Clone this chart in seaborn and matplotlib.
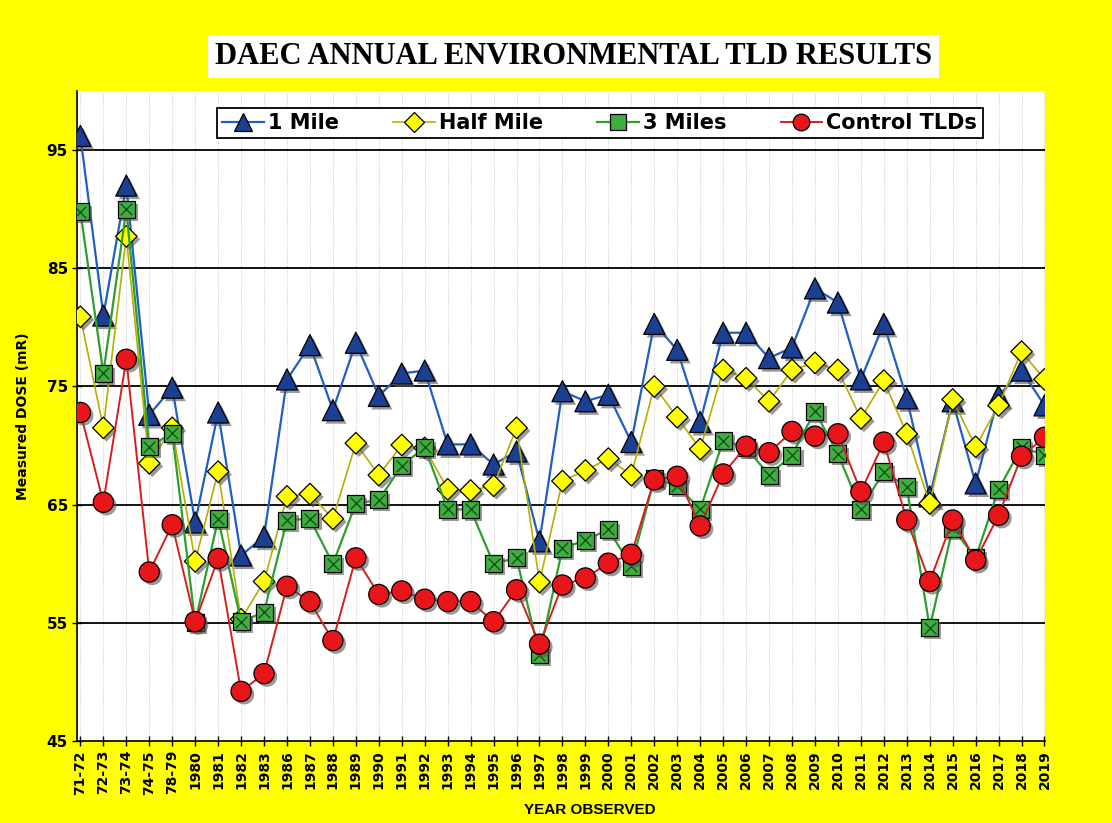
import numpy as np
import pandas as pd
import matplotlib
matplotlib.use("Agg")
import matplotlib.pyplot as plt
import matplotlib.patheffects as pe
from matplotlib.lines import Line2D
import seaborn as sns

categories = ["71-72", "72-73", "73-74", "74-75", "78-79", "1980", "1981", "1982", "1983",
              "1986", "1987", "1988", "1989", "1990", "1991", "1992", "1993", "1994", "1995",
              "1996", "1997", "1998", "1999", "2000", "2001", "2002", "2003", "2004", "2005",
              "2006", "2007", "2008", "2009", "2010", "2011", "2012", "2013", "2014", "2015",
              "2016", "2017", "2018", "2019"]

one_mile = [96.2, 81.0, 92.0, 72.6, 74.9, 63.5, 72.8, 60.7, 62.3, 75.6, 78.5, 73.0, 78.7,
            74.2, 76.1, 76.35, 70.1, 70.1, 68.4, 69.5, 61.9, 74.6, 73.75,
            74.3, 70.3, 80.3, 78.1, 72.0, 79.55, 79.55, 77.4, 78.3, 83.3,
            82.1, 75.6, 80.3, 74.0, 65.7, 73.75, 66.8, 74.2, 76.35, 73.4]
half_mile = [80.9, 71.5, 87.7, 68.5, 71.5, 60.2, 67.8, 55.3, 58.5, 65.7, 65.9, 63.8, 70.2,
             67.5, 70.05, 69.8, 66.3, 66.2, 66.6, 71.5, 58.45, 67.0, 67.9,
             68.9, 67.5, 75.0, 72.4, 69.7, 76.4, 75.7, 73.75, 76.4, 77.0,
             76.4, 72.3, 75.5, 71.0, 65.1, 73.9, 69.9, 73.4, 77.95, 75.6]
three_miles = [89.8, 76.1, 90.0, 69.9, 71.05, 55.0, 63.8, 55.1, 55.9, 63.7, 63.8, 60.0, 65.1,
               65.4, 68.3, 69.85, 64.6, 64.6, 60.0, 60.5, 52.3, 61.3, 62.0,
               62.9, 59.8, 67.2, 66.6, 64.6, 70.4, 69.85, 67.5, 69.2, 72.9,
               69.3, 64.6, 67.8, 66.5, 54.6, 63.0, 60.5, 66.3, 69.85, 69.2]
control = [72.8, 65.2, 77.3, 59.3, 63.3, 55.1, 60.45, 49.2, 50.7, 58.1, 56.8, 53.5, 60.5,
           57.4, 57.7, 57.0, 56.8, 56.8, 55.1, 57.8, 53.2, 58.2, 58.8,
           60.05, 60.8, 67.1, 67.4, 63.2, 67.6, 69.95, 69.4, 71.2, 70.8,
           71.0, 66.1, 70.3, 63.7, 58.5, 63.7, 60.3, 64.1, 69.1, 70.7]

series_names = ["1 Mile", "Half Mile", "3 Miles", "Control TLDs"]
y_ticks = [45, 55, 65, 75, 85, 95]

YELLOW = "#FFFF00"
fig = plt.figure(figsize=(11.12, 8.23), dpi=100, facecolor=YELLOW)
ax = fig.add_axes([0.0692, 0.0996, 0.8705, 0.7898])
ax.set_facecolor("white")

x = np.arange(len(categories))
df = pd.DataFrame({"x": np.tile(x, 4),
                   "value": one_mile + half_mile + three_miles + control,
                   "series": np.repeat(series_names, len(categories))})

styles = {
    "1 Mile": dict(line="#1f5fc4", face="#1b3f92", marker="^", s=230, lw=1.6),
    "Half Mile": dict(line="#b9ad00", face="#ffff00", marker="D", s=120, lw=1.2),
    "3 Miles": dict(line="#2e9e2e", face="#3fae3f", marker="s", s=150, lw=1.6),
    "Control TLDs": dict(line="#d41f1f", face="#e8161b", marker="o", s=210, lw=1.4),
}

shadow = [pe.SimplePatchShadow(offset=(2.2, -2.2), shadow_rgbFace="#555555", alpha=0.6), pe.Normal()]

z = 3
for name in series_names:
    st = styles[name]
    sub = df[df["series"] == name]
    sns.lineplot(data=sub, x="x", y="value", ax=ax, color=st["line"], lw=st["lw"],
                 legend=False, zorder=z)
    sns.scatterplot(data=sub, x="x", y="value", ax=ax, marker=st["marker"], s=st["s"],
                    color=st["face"], edgecolor="black", linewidth=0.9, legend=False,
                    zorder=z + 1, path_effects=shadow)
    if name == "3 Miles":
        sns.scatterplot(data=sub, x="x", y="value", ax=ax, marker="x", s=70,
                        color="#14501a", linewidth=1.0, legend=False, zorder=z + 1.5)
    z += 2

ax.set_xlim(-0.15, len(categories) - 1 + 0.02)
ax.set_ylim(45, 100)
ax.set_yticks(y_ticks)
ax.set_xticks(x)
ax.set_xticklabels(categories, rotation=90, fontsize=10, fontweight="bold")
for lab in ax.get_yticklabels():
    lab.set_fontweight("bold")
    lab.set_fontsize(11)

for yv in y_ticks[1:]:
    ax.axhline(yv, color="black", lw=1.3, zorder=1)
for xv in x:
    ax.axvline(xv, color="#b4b4b4", lw=0.6, ls=(0, (1, 2)), zorder=0.5)

for sp in ["top", "right"]:
    ax.spines[sp].set_visible(False)
ax.spines["left"].set_linewidth(1.2)
ax.spines["bottom"].set_linewidth(1.2)
ax.tick_params(axis="both", direction="inout", length=7, width=1, colors="black", pad=3)

ax.set_xlabel("")
ax.set_ylabel("Measured DOSE (mR)", fontsize=10, fontweight="bold", labelpad=12)
fig.text(0.53, 0.016, "YEAR OBSERVED", ha="center", va="center", fontsize=11,
         fontweight="bold", family=["Liberation Sans Narrow", "Liberation Sans", "DejaVu Sans"])

handles = []
for name in series_names:
    st = styles[name]
    ms = {"^": 13, "D": 10, "s": 11, "o": 12}[st["marker"]]
    handles.append(Line2D([0], [0], color=st["line"], lw=st["lw"], marker=st["marker"],
                          markersize=ms, markerfacecolor=st["face"], markeredgecolor="black",
                          markeredgewidth=0.9))
leg = ax.legend(handles, series_names, loc="upper center", bbox_to_anchor=(0.54, 0.99),
                ncol=4, frameon=True, fancybox=False, edgecolor="black", framealpha=1,
                prop=dict(weight="bold", size=15), handlelength=2.0, handletextpad=0.2,
                columnspacing=2.6, borderpad=0.25)
leg.get_frame().set_linewidth(1.3)
leg.set_zorder(20)

fig.text(0.516, 0.931, "DAEC ANNUAL ENVIRONMENTAL TLD RESULTS", ha="center", va="center",
         fontsize=22, fontweight="bold", family="Liberation Serif",
         bbox=dict(facecolor="white", edgecolor="none", pad=5))

fig.savefig("out.png", dpi=100, facecolor=YELLOW)
